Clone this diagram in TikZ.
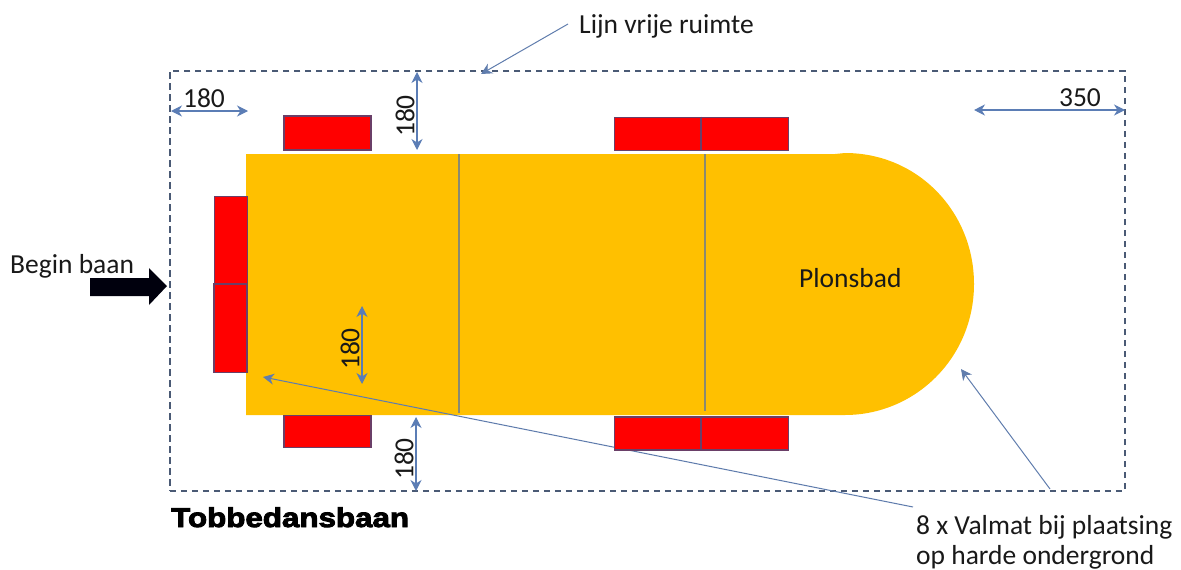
\documentclass[tikz,border=0pt]{standalone}
\usepackage{fontspec}
\setmainfont{Carlito}
\newfontfamily\blk[FakeBold=3.4,FakeStretch=1.16]{Liberation Sans Bold}
\usetikzlibrary{arrows.meta,positioning}
\definecolor{lineblue}{HTML}{5B7DB5}
\definecolor{dashc}{HTML}{4A5A75}
\definecolor{pool}{HTML}{FFC000}
\definecolor{matedge}{HTML}{6A3F68}
\definecolor{divc}{HTML}{8A8A70}
\tikzset{
  txt/.style={inner sep=0pt,font=\fontsize{27.5}{33}\selectfont,text=black!90},
  dim/.style={draw=lineblue,line width=1.05pt,{Stealth[length=11pt,width=11pt,inset=3.5pt]}-{Stealth[length=11pt,width=11pt,inset=3.5pt]}},
  lead/.style={draw=lineblue!85!gray,line width=1pt,-{Stealth[length=11pt,width=11pt,inset=3.5pt]}},
  mat/.style={draw=matedge,line width=1.7pt,fill=red,inner sep=0pt,anchor=north west},
  seam/.style={draw=matedge,line width=2pt},
  divider/.style={draw=divc,line width=1.1pt}
}
\begin{document}
\begin{tikzpicture}[x=1pt,y=-1pt]
\useasboundingbox (0,0) rectangle (1181,570);
% free space line
\node[draw=dashc,dash pattern=on 6.5pt off 4.5pt,line width=1.5pt,inner sep=0pt,minimum width=955.3pt,minimum height=420pt,anchor=north west] (free) at (169,70) {};
% pool
\fill[pool] (246,154) -- (835,154) -- (845,153) .. controls (918,153) and (974,212) .. (974,284) .. controls (974,358) and (915,415) .. (845,415) -- (246,415) -- cycle;
\coordinate (d1t) at (459,154); \coordinate (d1b) at (459,413);
\coordinate (d2t) at (705,154); \coordinate (d2b) at (705,411);
\draw[divider] (d1t) -- (d1b);
\draw[divider] (d2t) -- (d2b);
% labels
\node[txt,anchor=base west] (plons) at (799,287) {Plonsbad};
\node[txt,anchor=base west] (lijn) at (579,34) {Lijn vrije ruimte};
\node[txt,anchor=base west] (begin) at (10,273) {Begin baan};
\node[txt,anchor=base west] (val1) at (916,534) {8 x Valmat bij plaatsing};
\node[txt,anchor=base west] (val2) at (916,564) {op harde ondergrond};
\node[inner sep=0pt,anchor=base west,font=\blk\fontsize{27}{32}\selectfont,text=black] (title) at (171,527) {Tobbedansbaan};
% leaders
\coordinate (valA) at (913,507);
\coordinate (valB) at (1050,489);
\coordinate (headA) at (263,377);
\coordinate (headB) at (961,369);
\coordinate (lijnA) at (568,24);
\coordinate (headC) at (481,74);
\draw[lead] (valA) -- (headA);
\draw[lead] (valB) -- (headB);
\draw[lead] (lijnA) -- (headC);
% mats
\node[mat,minimum width=87pt,minimum height=34pt] (m1) at (283.3,115.3) {};
\node[mat,minimum width=87pt,minimum height=33pt] (m2) at (613.5,116.5) {};
\node[mat,minimum width=87pt,minimum height=33pt] (m3) at (700.5,116.5) {};
\node[mat,minimum width=87pt,minimum height=32pt] (m4) at (283.3,414.5) {};
\node[mat,minimum width=87pt,minimum height=33pt] (m5) at (613.5,416) {};
\node[mat,minimum width=87pt,minimum height=33pt] (m6) at (700.5,416) {};
\node[mat,minimum width=33pt,minimum height=88pt] (m7) at (213.5,195.5) {};
\node[mat,minimum width=33pt,minimum height=88pt] (m8) at (213,283.5) {};
\draw[seam] (m3.north west) -- (m3.south west);
\draw[seam] (m6.north west) -- (m6.south west);
\draw[seam] (m8.north west) -- (m8.north east);
% dimensions
\coordinate (a1) at (171,111); \coordinate (a2) at (248,111);
\coordinate (b1) at (417,72); \coordinate (b2) at (417,150);
\coordinate (c1) at (416,417); \coordinate (c2) at (416,491);
\coordinate (e1) at (362,306); \coordinate (e2) at (362,384);
\coordinate (f1) at (974,110); \coordinate (f2) at (1125,110);
\draw[dim] (a1) -- (a2);
\draw[dim] (b1) -- (b2);
\draw[dim] (c1) -- (c2);
\draw[dim] (e1) -- (e2);
\draw[dim] (f1) -- (f2);
\node[txt,anchor=center] (t1) at (204,98) {180};
\node[txt,anchor=center,rotate=90] (t2) at (405,116) {180};
\node[txt,anchor=center,rotate=90] (t3) at (404,459) {180};
\node[txt,anchor=center,rotate=90] (t4) at (350,349) {180};
\node[txt,anchor=center] (t5) at (1080,98) {350};
% start arrow
\fill[black!95!blue] (90,278) -- (149,278) -- (149,268) -- (167,286) -- (149,305) -- (149,296) -- (90,296) -- cycle;
\end{tikzpicture}
\end{document}
